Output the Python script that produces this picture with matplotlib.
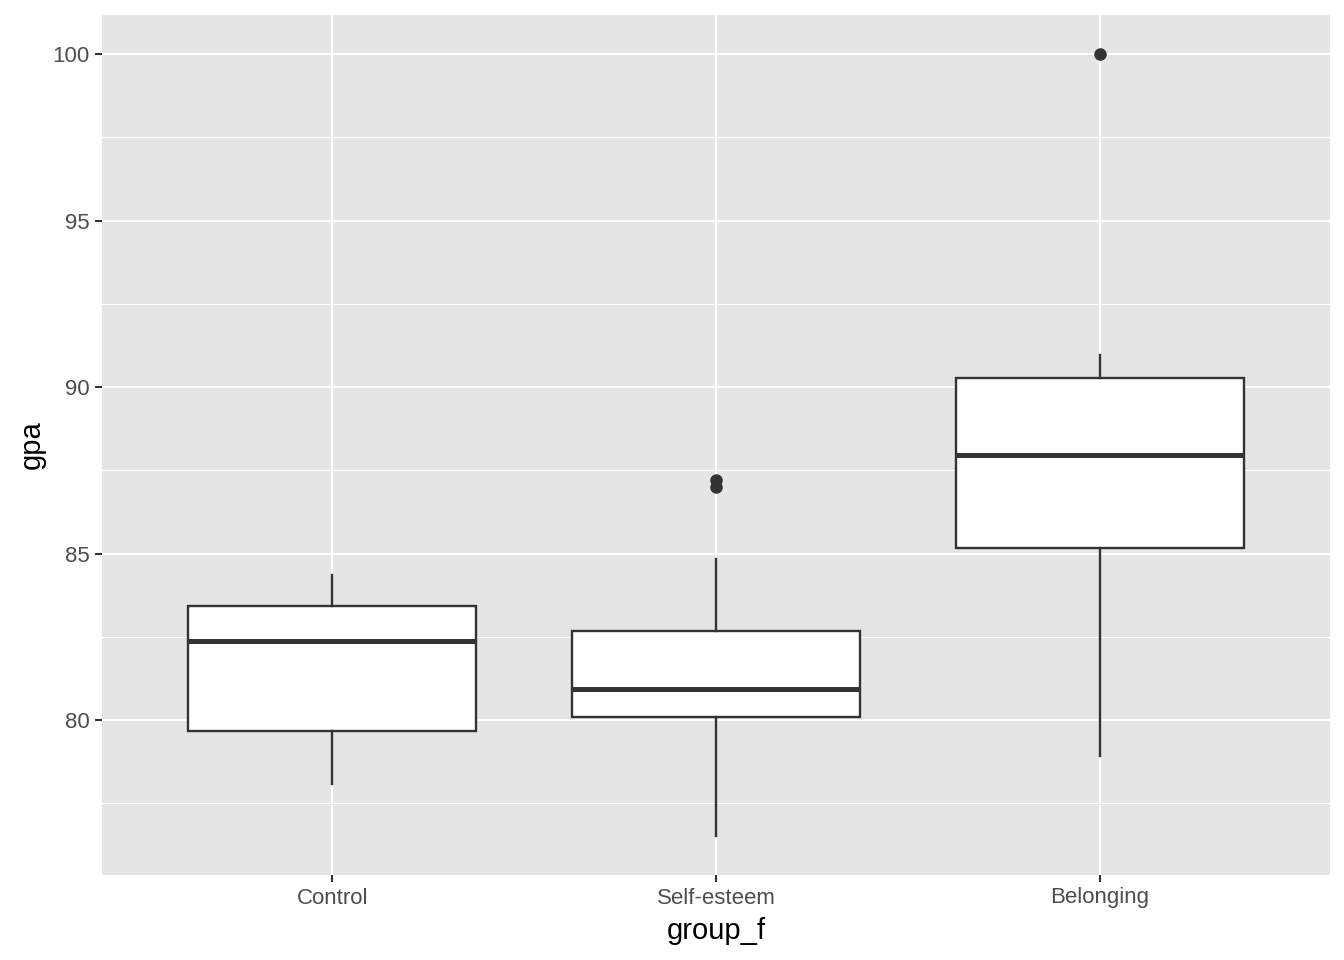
import matplotlib
matplotlib.use("Agg")
import matplotlib.pyplot as plt
from matplotlib.ticker import MultipleLocator

# Summary statistics
groups = ["Control", "Self-esteem", "Belonging"]
whisker_low = [78.08, 76.52, 78.92]
q1 = [79.67, 80.09, 85.17]
median = [82.37, 80.93, 87.96]
q3 = [83.42, 82.67, 90.27]
whisker_high = [84.35, 84.83, 90.96]
outliers = [[], [87.0, 87.2], [100.0]]

plt.rcParams['font.family'] = ['Liberation Sans', 'DejaVu Sans']

fig = plt.figure(figsize=(13.44, 9.6), dpi=100)
ax = fig.add_axes([102 / 1344, 1 - 875 / 960, 1228 / 1344, 860 / 960])
ax.set_facecolor('#e5e5e5')

stats = []
for i, g in enumerate(groups):
    stats.append({
        'label': g,
        'whislo': whisker_low[i],
        'q1': q1[i],
        'med': median[i],
        'q3': q3[i],
        'whishi': whisker_high[i],
        'fliers': outliers[i],
    })

dark = '#333333'
ax.bxp(stats, positions=[1, 2, 3], widths=0.75, patch_artist=True,
       showcaps=False, zorder=3,
       boxprops=dict(facecolor='white', edgecolor=dark, linewidth=1.7),
       medianprops=dict(color=dark, linewidth=3.6, solid_capstyle='butt'),
       whiskerprops=dict(color=dark, linewidth=1.7),
       flierprops=dict(marker='o', markerfacecolor=dark, markeredgecolor=dark,
                       markersize=8))

ax.set_xlim(0.4, 3.6)
ax.set_ylim(75.35, 101.17)
ax.yaxis.set_major_locator(MultipleLocator(5))
ax.yaxis.set_minor_locator(MultipleLocator(2.5))
ax.set_yticks([80, 85, 90, 95, 100])

ax.grid(which='major', color='white', linewidth=1.5, zorder=0)
ax.grid(which='minor', axis='y', color='white', linewidth=0.75, zorder=0)
ax.set_axisbelow(True)
for s in ax.spines.values():
    s.set_visible(False)

ax.tick_params(which='major', length=5, width=1.5, color=dark,
               labelsize=16, labelcolor='#4d4d4d', pad=4)
ax.tick_params(which='minor', length=0)
ax.set_xticklabels(groups)

ax.set_xlabel('group_f', fontsize=21, color='black', labelpad=6)
ax.set_ylabel('gpa', fontsize=21, color='black', labelpad=5)

fig.savefig('out.png', dpi=100)
